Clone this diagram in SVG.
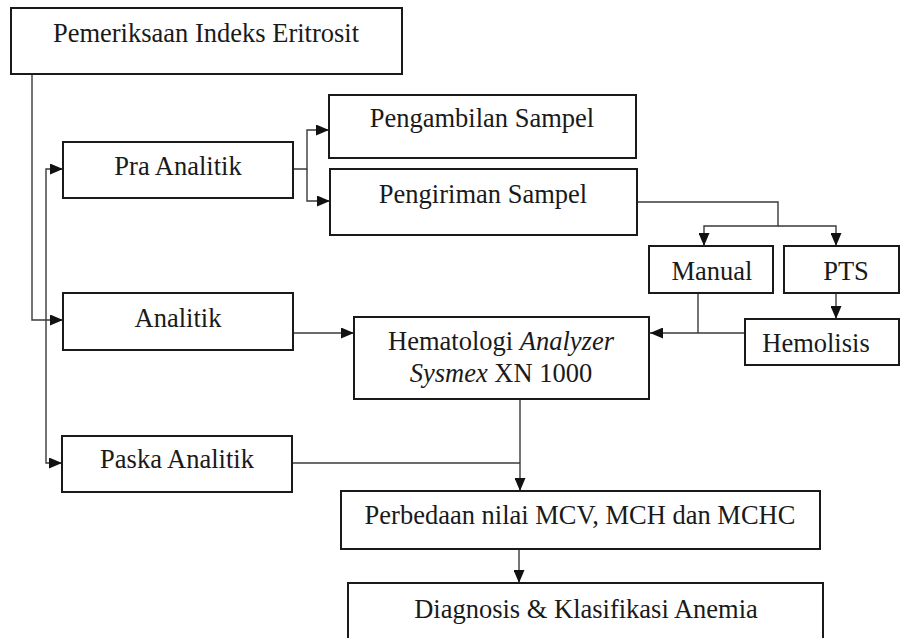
<svg xmlns="http://www.w3.org/2000/svg" width="901" height="638" viewBox="0 0 901 638">
<defs>
<style>
.box{fill:#fff;stroke:#1a1a1a;stroke-width:2}
.t{font-family:"Liberation Serif","Times New Roman",serif;font-size:26.5px;fill:#1a1a1a;text-anchor:middle}
.i{font-style:italic}
.c{fill:none;stroke:#3a3a3a;stroke-width:1.4}
</style>
<marker id="ah" viewBox="0 0 13 11" refX="13" refY="5.5" markerWidth="13" markerHeight="11" markerUnits="userSpaceOnUse" orient="auto">
<path d="M0,0 L13,5.5 L0,11 Z" fill="#111"/>
</marker>
</defs>
<rect width="901" height="638" fill="#fff"/>
<g id="connectors">
<path class="c" d="M32,74 V320 H63" marker-end="url(#ah)"/>
<path class="c" d="M46,320 V169 H63" marker-end="url(#ah)"/>
<path class="c" d="M46,320 V463 H62" marker-end="url(#ah)"/>
<path class="c" d="M293,169 H307 V130 H329" marker-end="url(#ah)"/>
<path class="c" d="M307,169 V201 H330" marker-end="url(#ah)"/>
<path class="c" d="M637,202 H778 V226 H704 V246" marker-end="url(#ah)"/>
<path class="c" d="M778,226 H836 V246" marker-end="url(#ah)"/>
<path class="c" d="M836,293 V319" marker-end="url(#ah)"/>
<path class="c" d="M698,293 V333"/>
<path class="c" d="M745,333 H650" marker-end="url(#ah)"/>
<path class="c" d="M293,333 H354" marker-end="url(#ah)"/>
<path class="c" d="M520,399 V491" marker-end="url(#ah)"/>
<path class="c" d="M292,463 H520"/>
<path class="c" d="M519,549 V583" marker-end="url(#ah)"/>
</g>
<g id="n-pemeriksaan"><rect class="box" x="11" y="8" width="391" height="66"/><text class="t" x="206" y="42">Pemeriksaan Indeks Eritrosit</text></g>
<g id="n-pra"><rect class="box" x="63" y="142" width="230" height="56"/><text class="t" x="178" y="175">Pra Analitik</text></g>
<g id="n-analitik"><rect class="box" x="63" y="293" width="230" height="57"/><text class="t" x="178" y="327">Analitik</text></g>
<g id="n-paska"><rect class="box" x="62" y="436" width="230" height="56"/><text class="t" x="177" y="468">Paska Analitik</text></g>
<g id="n-pengambilan"><rect class="box" x="329" y="95" width="307" height="63"/><text class="t" x="482" y="127">Pengambilan Sampel</text></g>
<g id="n-pengiriman"><rect class="box" x="330" y="169" width="307" height="66"/><text class="t" x="483" y="203">Pengiriman Sampel</text></g>
<g id="n-manual"><rect class="box" x="649" y="246" width="124" height="47"/><text class="t" x="712" y="280">Manual</text></g>
<g id="n-pts"><rect class="box" x="784" y="246" width="115" height="47"/><text class="t" x="846" y="280">PTS</text></g>
<g id="n-hemolisis"><rect class="box" x="745" y="319" width="154" height="46"/><text class="t" x="816" y="352">Hemolisis</text></g>
<g id="n-hematologi"><rect class="box" x="354" y="317" width="295" height="82"/><text class="t" x="501" y="350">Hematologi <tspan class="i">Analyzer</tspan></text><text class="t" x="501" y="382"><tspan class="i">Sysmex</tspan> XN 1000</text></g>
<g id="n-perbedaan"><rect class="box" x="341" y="491" width="479" height="58"/><text class="t" x="580" y="524">Perbedaan nilai MCV, MCH dan MCHC</text></g>
<g id="n-diagnosis"><rect class="box" x="348" y="583" width="475" height="70"/><text class="t" x="586" y="618">Diagnosis &amp; Klasifikasi Anemia</text></g>
</svg>
